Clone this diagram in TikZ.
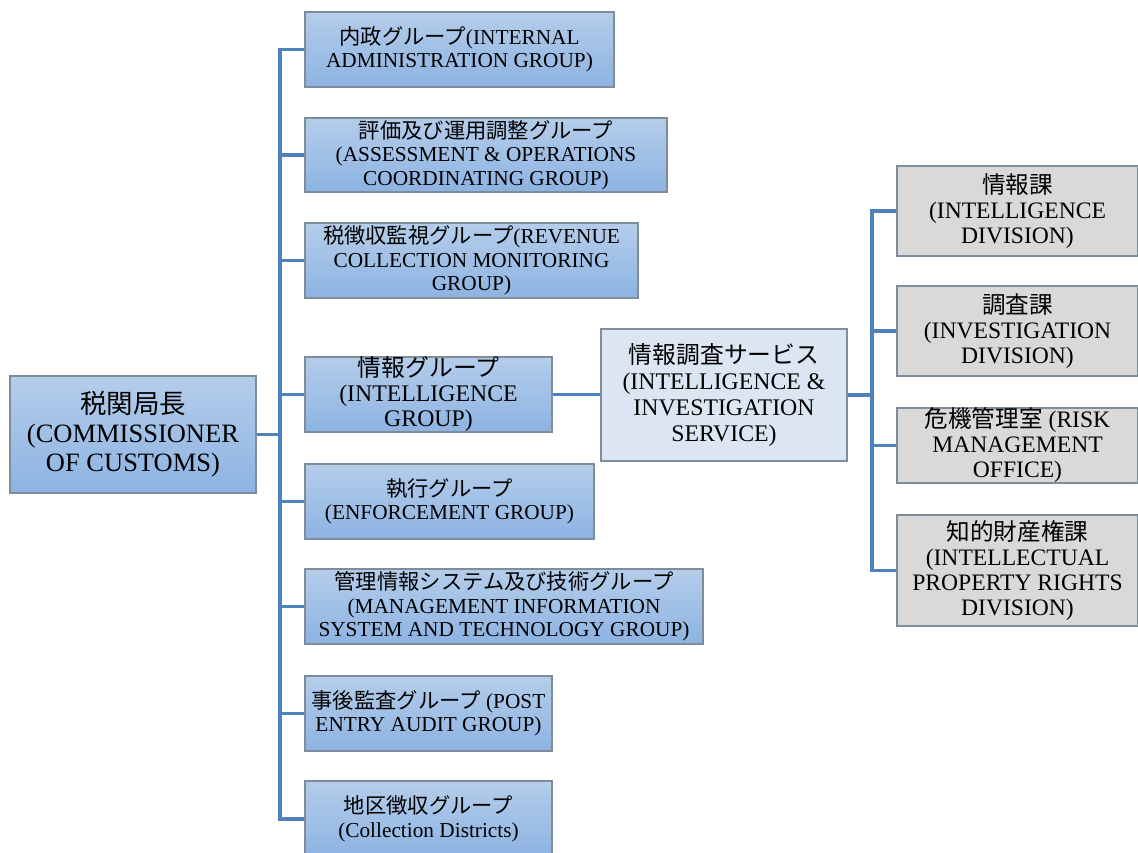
\documentclass[tikz,border=0pt]{standalone}
\usepackage{fontspec}
\setmainfont{Liberation Serif}
\newfontfamily\cjk{Noto Sans CJK JP}
\definecolor{btop}{HTML}{B4CDEA}
\definecolor{bbot}{HTML}{8DB3E2}
\definecolor{svcfill}{HTML}{DCE6F2}
\definecolor{grayfill}{HTML}{D9D9D9}
\definecolor{edge}{HTML}{7F8C99}
\definecolor{conncol}{HTML}{4F81BD}
\tikzset{
  boxbase/.style={draw=edge, line width=1.2pt, inner sep=0pt, align=center, text=black},
  grp/.style={boxbase, top color=btop, bottom color=bbot, font=\fontsize{21.3}{23.5}\selectfont},
  svc/.style={boxbase, fill=svcfill, font=\fontsize{23.8}{26}\selectfont},
  div/.style={boxbase, fill=grayfill, font=\fontsize{23.6}{25}\selectfont},
  conn/.style={draw=conncol, line width=3.2pt},
  spine/.style={conn, line cap=rect},
}
\begin{document}
\begin{tikzpicture}[x=1pt,y=-1pt]
\useasboundingbox (0,0) rectangle (1138,853);
% commissioner
\node[grp, font=\fontsize{26.5}{29}\selectfont, minimum width=246pt, minimum height=117pt] (comm) at (133,434.5)
  {{\cjk 税関局長}\\(COMMISSIONER\\OF CUSTOMS)};
% groups
\node[grp, minimum width=309pt, minimum height=75pt] (g1) at (459.5,49.5)
  {{\cjk 内政グループ}(INTERNAL\\ADMINISTRATION GROUP)};
\node[grp, minimum width=362pt, minimum height=74pt] (g2) at (486,155)
  {{\cjk 評価及び運用調整グループ}\\(ASSESSMENT \& OPERATIONS\\COORDINATING GROUP)};
\node[grp, minimum width=333pt, minimum height=75pt] (g3) at (471.5,260.5)
  {{\cjk 税徴収監視グループ}(REVENUE\\COLLECTION MONITORING\\GROUP)};
\node[grp, font=\fontsize{23.8}{25}\selectfont, minimum width=247pt, minimum height=75pt] (g4) at (428.5,394.5)
  {{\cjk 情報グループ}\\(INTELLIGENCE\\GROUP)};
\node[grp, minimum width=289pt, minimum height=75pt] (g5) at (449.5,501.5)
  {{\cjk 執行グループ}\\(ENFORCEMENT GROUP)};
\node[grp, minimum width=398pt, minimum height=75pt] (g6) at (504,606.5)
  {{\cjk 管理情報システム及び技術グループ}\\(MANAGEMENT INFORMATION\\SYSTEM AND TECHNOLOGY GROUP)};
\node[grp, minimum width=247pt, minimum height=75pt] (g7) at (428.5,713.5)
  {{\cjk 事後監査グループ} (POST\\ENTRY AUDIT GROUP)};
\node[grp, minimum width=247pt, minimum height=76pt] (g8) at (428.5,819)
  {{\cjk 地区徴収グループ}\\(Collection Districts)};
% service
\node[svc, minimum width=246pt, minimum height=132pt] (svc) at (724,395)
  {{\cjk 情報調査サービス}\\(INTELLIGENCE \&\\INVESTIGATION\\SERVICE)};
% divisions
\node[div, minimum width=241pt, minimum height=90pt] (d1) at (1017.5,211)
  {{\cjk 情報課}\\(INTELLIGENCE\\DIVISION)};
\node[div, minimum width=241pt, minimum height=90pt] (d2) at (1017.5,331)
  {{\cjk 調査課}\\(INVESTIGATION\\DIVISION)};
\node[div, minimum width=241pt, minimum height=75pt] (d3) at (1017.5,445.5)
  {{\cjk 危機管理室} (RISK\\MANAGEMENT\\OFFICE)};
\node[div, minimum width=241pt, minimum height=111pt] (d4) at (1017.5,570.5)
  {{\cjk 知的財産権課}\\(INTELLECTUAL\\PROPERTY RIGHTS\\DIVISION)};
% connectors
\coordinate (spL) at (280,0);
\coordinate (spR) at (872,0);
\draw[spine] (spL |- g1.west) -- (spL |- g8.west);
\draw[conn] (comm.east) -- (spL |- comm.east);
\foreach \g in {g1,g2,g3,g4,g5,g6,g7,g8}
  \draw[conn] (spL |- \g.west) -- (\g.west);
\draw[conn] (g4.east) -- (svc.west |- g4.east);
\draw[spine] (spR |- d1.west) -- (spR |- d4.west);
\draw[conn] (svc.east) -- (spR |- svc.east);
\foreach \d in {d1,d2,d3,d4}
  \draw[conn] (spR |- \d.west) -- (\d.west);
\end{tikzpicture}
\end{document}
